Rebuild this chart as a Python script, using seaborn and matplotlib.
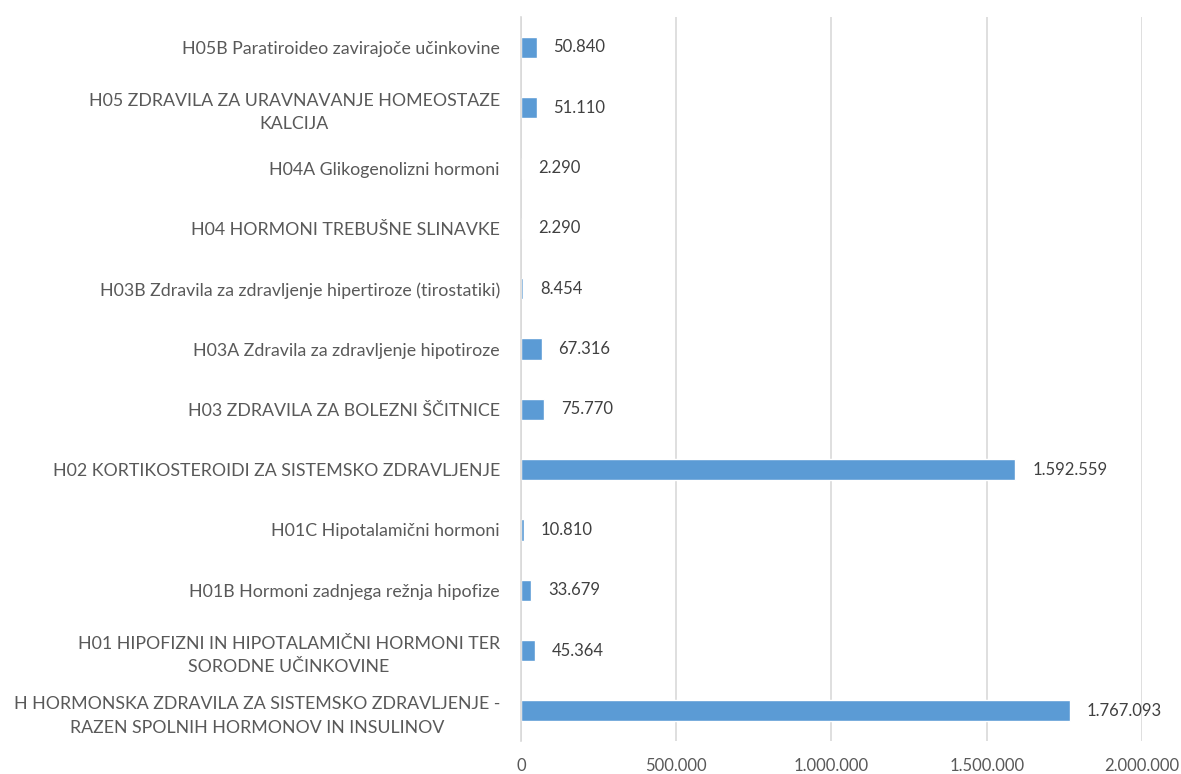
import matplotlib
matplotlib.use("Agg")
import matplotlib.pyplot as plt
import seaborn as sns
import pandas as pd
from matplotlib.ticker import FuncFormatter

categories = [
    "H05B Paratiroideo zavirajoče učinkovine",
    "H05 ZDRAVILA ZA URAVNAVANJE HOMEOSTAZE\nKALCIJA",
    "H04A Glikogenolizni hormoni",
    "H04 HORMONI TREBUŠNE SLINAVKE",
    "H03B Zdravila za zdravljenje hipertiroze (tirostatiki)",
    "H03A Zdravila za zdravljenje hipotiroze",
    "H03 ZDRAVILA ZA BOLEZNI ŠČITNICE",
    "H02 KORTIKOSTEROIDI ZA SISTEMSKO ZDRAVLJENJE",
    "H01C Hipotalamični hormoni",
    "H01B Hormoni zadnjega režnja hipofize",
    "H01 HIPOFIZNI IN HIPOTALAMIČNI HORMONI TER\nSORODNE UČINKOVINE",
    "H HORMONSKA ZDRAVILA ZA SISTEMSKO ZDRAVLJENJE -\nRAZEN SPOLNIH HORMONOV IN INSULINOV",
]
values = [50840, 51110, 2290, 2290, 8454, 67316, 75770, 1592559, 10810, 33679, 45364, 1767093]
x_ticks = [0, 500000, 1000000, 1500000, 2000000]

def fmt(v):
    return f"{int(v):,}".replace(",", ".")

df = pd.DataFrame({"cat": categories, "val": values})

sns.set_style("white")
plt.rcParams["font.family"] = ["Lato", "DejaVu Sans"]

fig = plt.figure(figsize=(11.81, 7.74), dpi=100)
ax = fig.add_axes([0.441, 0.0426, 0.526, 0.935])

sns.barplot(data=df, y="cat", x="val", color="#5B9BD5", width=0.35, ax=ax,
            orient="h", saturation=1)

ax.set_xlim(0, 2000000)
ax.set_xticks(x_ticks)
ax.xaxis.set_major_formatter(FuncFormatter(lambda v, p: fmt(v)))
ax.grid(axis="x", color="#D9D9D9", linewidth=1.2)
ax.set_axisbelow(True)
for s in ["top", "right", "bottom"]:
    ax.spines[s].set_visible(False)
ax.spines["left"].set_color("#D9D9D9")
ax.spines["left"].set_linewidth(1.2)
ax.set_xlabel("")
ax.set_ylabel("")
ax.tick_params(axis="both", length=0, colors="#595959")
ax.tick_params(axis="x", labelsize=12, pad=12)
ax.tick_params(axis="y", labelsize=12.8, pad=15)
for lbl in ax.get_yticklabels():
    lbl.set_multialignment("center")
    lbl.set_color("#595959")
    lbl.set_linespacing(1.55)

for c in ax.containers:
    ax.bar_label(c, labels=[fmt(v) for v in values], padding=12, fontsize=12, color="#404040")

fig.savefig("out.png", dpi=100)
